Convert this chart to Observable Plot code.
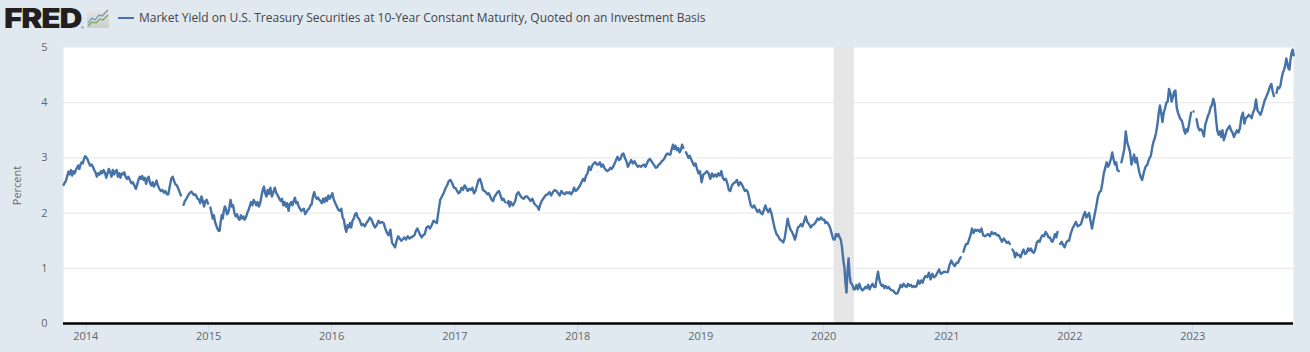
<!DOCTYPE html>
<html>
<head>
<meta charset="utf-8">
<script src="https://cdn.jsdelivr.net/npm/d3@7"></script>
<script src="https://cdn.jsdelivr.net/npm/@observablehq/plot@0.6"></script>
<style>
html,body{margin:0;padding:0;background:#e1e9f0;width:1310px;height:352px;overflow:hidden}
#head{position:relative;height:40px;width:1310px}
#logo{position:absolute;left:4px;top:2px;font:900 27.5px/32px Inter,"Liberation Sans",sans-serif;letter-spacing:-1.05px;color:#231f20;transform:scaleX(1.155);transform-origin:0 0}
#reg{position:absolute;left:81px;top:25px;font:400 4px/5px "Liberation Sans",sans-serif;color:#231f20}
#icon{position:absolute;left:87px;top:8px}
#dash{position:absolute;left:118px;top:17px;width:16px;height:2px;background:#4572a7}
#title{position:absolute;left:139px;top:9px;font:12px/18px "Open Sans",sans-serif;color:#444;white-space:nowrap}
</style>
</head>
<body>
<div id="head">
<div id="logo">FRED</div><div id="reg">®</div>
<svg id="icon" width="22" height="20" viewBox="0 0 22 20"><defs><linearGradient id="g" x1="0" y1="0" x2="0" y2="1"><stop offset="0" stop-color="#e6eaec"/><stop offset="1" stop-color="#c9cdcc"/></linearGradient></defs><rect width="22" height="20" rx="1" fill="url(#g)"/><polyline points="1,15 5,10 8,12 12,7 15,8 21,2" fill="none" stroke="#6d93b8" stroke-width="1.2"/><polyline points="1,18 5,14 9,15 13,11 16,12 21,7" fill="none" stroke="#7fa352" stroke-width="1.2"/></svg>
<div id="dash"></div>
<div id="title">Market Yield on U.S. Treasury Securities at 10-Year Constant Maturity, Quoted on an Investment Basis</div>
</div>
<div id="chart"></div>
<script>
const y2013 = [[],[],[],[],[],[],[],[],[],
 [null,null,null,null,null,null,null,null,2.51,2.55],
 [2.58,2.66,2.75,2.70,2.78,2.68,2.76,2.72],
 [2.78,2.82,2.86,2.80,2.88,2.92,2.90,2.98,3.03]];
const y2014 = [
 [3.01,2.97,2.90,2.86,2.88,2.84,2.78,2.74],
 [2.66,2.72,2.70,2.76,2.72,2.78,2.73],
 [2.64,2.72,2.80,2.74,2.66,2.78,2.70,2.76],
 [2.78,2.66,2.72,2.64,2.72,2.70,2.74,2.66],
 [2.62,2.66,2.60,2.54,2.56,2.50,2.44],
 [2.52,2.60,2.66,2.62,2.67,2.60,2.64,2.53],
 [2.62,2.66,2.55,2.50,2.56,2.48,2.52,2.59],
 [2.50,2.44,2.40,2.42,2.37,2.40,2.34],
 [2.34,2.48,2.62,2.66,2.58,2.52,2.50],
 [2.44,2.38,2.32,null,2.15,2.22,2.25,2.30],
 [2.34,2.37,2.39,2.36,2.33,2.34,2.31,2.26],
 [2.25,2.18,2.30,2.22,2.12,2.22,2.24,2.17]];
const y2015 = [
 [null,2.10,2.00,1.90,1.96,1.84,1.78,1.72,1.68],
 [1.68,1.84,1.96,1.90,2.05,2.12,2.08,1.98,2.00],
 [2.08,2.24,2.12,2.14,2.00,1.94,1.98,1.90],
 [1.88,1.96,1.90,1.94,1.88,1.92,2.00,2.05],
 [2.12,2.20,2.14,2.24,2.20,2.14,2.20,2.12],
 [2.18,2.30,2.42,2.48,2.36,2.30,2.42,2.35],
 [2.46,2.30,2.38,2.46,2.36,2.32,2.26],
 [2.22,2.26,2.14,2.20,2.12,2.18,2.04,2.16],
 [2.20,2.14,2.22,2.28,2.18,2.20,2.12,2.08],
 [2.04,2.06,2.08,1.98,2.02,2.06,2.08,2.14],
 [2.16,2.30,2.38,2.30,2.26,2.28,2.24,2.22],
 [2.18,2.26,2.20,2.28,2.22,2.32,2.26,2.30]];
const y2016 = [
 [2.36,2.24,2.18,2.12,2.06,2.04,2.08],
 [1.92,1.88,1.74,1.66,1.78,1.74,1.82,1.74],
 [1.86,1.90,1.98,2.00,1.92,1.90,1.84,1.78],
 [1.80,1.76,1.82,1.86,1.92,1.88],
 [1.80,1.74,1.78,1.86,1.82,1.84],
 [1.82,1.72,1.64,1.60,1.70,1.46],
 [1.42,1.38,1.50,1.58,1.54,1.50,1.52],
 [1.56,1.52,1.58,1.54,1.56,1.58],
 [1.60,1.68,1.72,1.66,1.60,1.56,1.60],
 [1.62,1.74,1.76,1.72,1.78,1.86],
 [1.84,1.82,2.04,2.24,2.30,2.36],
 [2.44,2.50,2.58,2.60,2.54,2.46]];
const y2017 = [
 [2.45,2.40,2.36,2.38,2.46,2.42,2.50],
 [2.46,2.40,2.44,2.42,2.46,2.36],
 [2.40,2.50,2.60,2.62,2.54,2.42,2.40],
 [2.38,2.34,2.36,2.30,2.24,2.22,2.30],
 [2.34,2.38,2.40,2.32,2.24,2.26,2.20],
 [null,2.18,2.22,2.12,2.20,2.16,2.14,2.18,2.22],
 [2.34,2.38,2.32,2.28,2.26,2.30],
 [2.30,2.26,2.22,2.26,2.18,2.14],
 [2.12,2.06,2.16,2.22,2.26,2.30,2.33],
 [2.34,2.38,2.32,2.38,2.42,2.40],
 [2.36,2.32,2.40,2.36,2.34,2.38],
 [2.36,2.38,2.34,2.38,2.46,2.40,2.42]];
const y2018 = [
 [2.46,2.50,2.56,2.62,2.58,2.68,2.72],
 [2.84,2.78,2.86,2.90,2.92,2.88],
 [2.88,2.92,2.84,2.88,2.82,2.78,2.76],
 [2.78,2.82,2.80,2.84,2.90,2.96,3.02],
 [2.96,2.98,3.06,3.08,3.00,2.94,2.84],
 [2.90,2.96,2.90,2.94,2.88,2.84],
 [2.86,2.84,2.86,2.88,2.84,2.90,2.96],
 [2.98,2.94,2.90,2.86,2.82,2.84,2.88],
 [2.90,2.94,2.96,3.00,3.06,3.08,3.06],
 [3.06,3.16,3.24,3.16,3.22,3.14,3.18,3.10],
 [3.14,3.24,3.18,null,3.10,3.06,3.00,3.04],
 [2.98,2.92,2.86,2.90,2.80,2.72,2.76]];
const y2019 = [
 [2.56,2.70,2.72,2.76,2.72,2.62],
 [2.72,2.66,2.70,2.66,2.72,2.68],
 [2.76,2.64,2.60,2.62,2.54,2.42,2.40],
 [2.50,2.54,2.56,2.60,2.50,2.56],
 [2.52,2.46,2.40,2.42,2.38,2.26,2.14],
 [2.10,2.14,2.08,2.02,2.06,2.00],
 [1.98,2.06,2.14,2.06,2.02,2.08,2.00],
 [1.86,1.72,1.62,1.58,1.52,1.50],
 [1.47,1.55,1.72,1.90,1.78,1.70,1.66],
 [1.60,1.52,1.62,1.74,1.76,1.80,1.76],
 [1.84,1.94,1.84,1.80,1.74,1.78],
 [1.80,1.84,1.90,1.88,1.92,1.88]];
const y2020 = [
 [1.88,1.82,1.84,1.82,1.78,1.74,1.66,1.58,1.52],
 [1.52,1.62,1.58,1.62,1.56,1.52,1.38,1.15],
 [1.02,0.74,0.56,0.95,1.18,0.88,0.74,0.72,0.68,0.62],
 [0.62,0.70,0.62,0.72,0.64,0.60,0.62],
 [0.66,0.64,0.70,0.62,0.68,0.72,0.66],
 [0.66,0.82,0.94,0.80,0.72,0.68,0.70,0.64],
 [0.68,0.64,0.66,0.62,0.60,0.60,0.56],
 [0.54,0.55,0.62,0.70,0.66,0.72,0.68],
 [0.66,0.72,0.68,0.70,0.66,0.68,0.66],
 [0.68,0.78,0.72,0.78,0.74,0.82,0.86],
 [0.84,0.92,0.80,0.90,0.84,0.86],
 [0.92,0.98,0.90,0.92,0.94,0.93]];
const y2021 = [
 [0.93,1.06,1.14,1.08,1.04,1.10],
 [1.10,1.16,1.20,null,1.30,1.38,1.44],
 [1.44,1.52,1.60,1.72,1.64,1.70,1.68],
 [1.70,1.66,1.72,1.60,1.58,1.60],
 [1.62,1.58,1.66,1.62,1.64,1.60],
 [1.60,1.54,1.48,1.54,1.50,1.46],
 [1.48,1.44,null,1.34,1.30,1.20,1.28,1.24],
 [1.24,1.20,1.28,1.34,1.26,1.28,1.36],
 [1.32,1.36,1.30,1.28,1.34,1.46,1.50],
 [1.48,1.56,1.60,1.58,1.66,1.62,1.56],
 [1.56,1.50,1.48,1.54,1.62,1.56,1.66,null],
 [1.44,1.48,1.42,1.38,1.46,1.50,1.50]];
const y2022 = [
 [1.63,1.72,1.78,1.84,1.76,1.78],
 [1.80,1.88,1.96,2.02,1.92,1.96,2.00],
 [1.86,1.72,1.86,2.00,2.14,2.30,2.38],
 [2.40,2.54,2.72,2.82,2.92,2.84,2.90],
 [2.98,3.10,2.98,2.88,2.92,2.78,2.76,null],
 [2.92,3.04,3.16,3.48,3.28,3.20,3.10],
 [2.88,2.98,3.06,2.92,3.00,2.86,2.74,2.66],
 [2.60,2.74,2.84,2.88,2.98,3.04],
 [3.20,3.30,3.36,3.46,3.60,3.80,3.95,3.82],
 [3.65,3.82,3.90,4.00,4.02,4.25,4.18,4.02],
 [4.10,4.20,4.22,3.92,3.82,3.76,3.70,3.68],
 [3.60,3.50,3.44,3.52,3.48,3.58,3.70,3.82,null]];
const y2023 = [
 [3.84,null,3.70,3.56,3.50,3.52,3.48],
 [3.39,3.60,3.68,3.76,3.82,3.92,3.96],
 [4.07,3.98,3.72,3.50,3.42,3.48,3.38,3.50],
 [3.32,3.40,3.50,3.54,3.58,3.50,3.46],
 [3.38,3.44,3.50,3.46,3.54,3.74,3.82],
 [3.62,3.72,3.74,3.78,3.76,3.72,3.82],
 [3.88,4.06,3.86,3.82,3.78,3.86,3.96],
 [4.05,4.10,4.16,4.22,4.30,4.34,4.20,4.12],
 [null,4.18,4.28,4.26,4.30,4.44,4.54,4.60],
 [4.68,4.80,4.72,4.62,4.60,4.78,4.90,4.96,4.86,null]];
const yearStarts = [2013,2014,2015,2016,2017,2018,2019,2020,2021,2022,2023];
const yearValues = [y2013,y2014,y2015,y2016,y2017,y2018,y2019,y2020,y2021,y2022,y2023];
const recession = [{start:new Date("2020-02-01"), end:new Date("2020-04-01")}];
const yTicks = [0,1,2,3,4,5];
const titleText = "Percent";

const rows = [];
yearStarts.forEach((yr,yi)=>{
  yearValues[yi].forEach((vals,m)=>{
    const a = Date.UTC(yr,m,1), b = Date.UTC(yr,m+1,1);
    vals.forEach((v,j)=>rows.push({date:new Date(a+(b-a)*(j+0.5)/vals.length), value:v}));
  });
});

const plot = Plot.plot({
  width:1310, height:312,
  marginTop:7, marginBottom:29, marginLeft:63, marginRight:17,
  style:{background:"transparent", fontFamily:"'Open Sans',sans-serif", fontSize:"11px"},
  x:{type:"utc", domain:[new Date("2013-10-27"),new Date("2023-10-27")]},
  y:{domain:[0,5]},
  marks:[
    Plot.frame({fill:"#fff", stroke:"none"}),
    Plot.ruleY([1,2,3,4],{stroke:"#e6e6e6", strokeWidth:1}),
    Plot.rect(recession,{x1:"start", x2:"end", y1:0, y2:5, fill:"#e6e6e6"}),
    Plot.line(rows,{x:"date", y:"value", stroke:"#4572a7", strokeWidth:2.4, strokeLinecap:"round", strokeLinejoin:"round", curve:"linear"}),
    Plot.axisX({ticks:"year", tickFormat:d3.utcFormat("%Y"), tickSize:10, tickPadding:-1, stroke:"#ccd6eb", fill:"#666", label:null}),
    Plot.axisY({ticks:yTicks, tickFormat:d3.format("d"), tickSize:0, tickPadding:16, fill:"#666", label:titleText, labelAnchor:"center", labelArrow:"none", labelOffset:50}),
    Plot.ruleY([0],{stroke:"#000", strokeWidth:2.5})
  ]
});
document.getElementById("chart").appendChild(plot);
</script>
</body>
</html>
